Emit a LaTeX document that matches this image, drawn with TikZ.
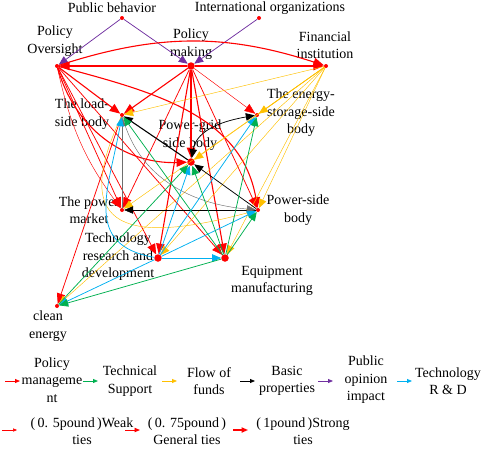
\documentclass[tikz,border=0pt]{standalone}
\usepackage{fontspec}
\setmainfont{Liberation Serif}
\usetikzlibrary{arrows.meta}
\definecolor{polred}{RGB}{255,0,0}
\definecolor{tecgreen}{RGB}{0,176,80}
\definecolor{funyellow}{RGB}{255,192,0}
\definecolor{pubpurple}{RGB}{112,48,160}
\definecolor{rndcyan}{RGB}{0,176,240}
\definecolor{basgray}{RGB}{110,110,110}
\newcommand\openp{(\,}
\newcommand\closep{\,)}
\begin{document}
\begin{tikzpicture}[x=1pt,y=1pt,every node/.style={font=\fontsize{14}{17.5}\selectfont},
  dot/.style={circle,fill=polred,inner sep=0pt,minimum size=4pt},
  bigdot/.style={dot,minimum size=7.5pt},
  lbl/.style={align=center,inner sep=0pt},
  rel/.style={-{Triangle[length=9pt,width=7.5pt]}},
  pol/.style={draw=polred,-{Triangle[length=10.5pt,width=8.5pt]}},
  tec/.style={rel,draw=tecgreen},
  fun/.style={rel,draw=funyellow},
  bas/.style={rel,draw=black},
  pub/.style={rel,draw=pubpurple},
  rnd/.style={rel,draw=rndcyan},
  wk/.style={line width=.45pt},gn/.style={line width=.75pt},st/.style={line width=1.1pt},
  legtip/.style={line width=.8pt,-{Triangle[length=5pt,width=4pt]}}]
\useasboundingbox (0,0) rectangle (484,-448);
% actors
\foreach \name/\x/\y in {PB/122/18,IO/259/18,PO/57/66,FI/326/66,LS/122/115,ES/257/115,
  MK/122/210,PS/258/210,CE/57/306}{
 \node[dot] (\name) at (\x,-\y) {};}
\foreach \name/\x/\y in {PM/191/66,PG/191/162,TR/158/258,EM/225/258}{
 \node[bigdot] (\name) at (\x,-\y) {};}
\node[lbl] (PB-l) at (112,-8) {Public behavior};
\node[lbl] (IO-l) at (270,-8) {International organizations};
\node[lbl] (PO-l) at (55,-41) {Policy\\Oversight};
\node[lbl] (PM-l) at (191,-44) {Policy\\making};
\node[lbl] (FI-l) at (325,-45) {Financial\\institution};
\node[lbl] (LS-l) at (82,-114) {The load-\\side body};
\node[lbl] (ES-l) at (301,-113) {The energy-\\storage-side\\body};
\node[lbl] (PG-l) at (190,-135) {Power-grid\\side body};
\node[lbl] (MK-l) at (89,-210) {The power\\market};
\node[lbl] (PS-l) at (298,-210) {Power-side\\body};
\node[lbl] (TR-l) at (118,-257) {Technology\\research and\\development};
\node[lbl] (EM-l) at (272,-281) {Equipment\\manufacturing};
\node[lbl] (CE-l) at (48,-326) {clean\\energy};
% public opinion
\foreach \a/\b in {PB/PO,PB/PM,IO/PM} \draw[pub,gn] (\a) -- (\b);
% policy management
\foreach \a/\b in {PM/PO,PM/FI,PO/LS,PM/LS,PM/PG,PM/TR,PM/EM} \draw[pol,st] (\a) -- (\b);
\foreach \a/\b in {PM/PS,PO/MK,PM/MK,PO/TR,PO/EM,LS/CE} \draw[pol,gn] (\a) -- (\b);
\draw[pol,wk] (PM) -- (ES);
\draw[pol,st] (PO) to[bend left=18] (FI);
\draw[pol,st] (PO) to[bend right=38] (PG);
\draw[pol,st] (PO) to[out=-15,in=100] (PS);
\draw[pol,wk] (PO) to[bend right=12] (MK);
% funds
\foreach \a/\b in {FI/LS,FI/PG,FI/MK,FI/PS,FI/TR,FI/EM,FI/CE} \draw[fun,wk] (\a) -- (\b);
\draw[fun,gn] (FI) -- (ES);
\draw[fun,wk] (LS) to[out=-115,in=195,looseness=2] (PS);
% basic properties
\draw[bas,st] (PG) -- (LS);
\draw[bas,gn] (PS) -- (PG);
\draw[bas,gn,{Triangle[length=9pt,width=7.5pt]}-{Triangle[length=9pt,width=7.5pt]}]
 (PG) to[out=80,in=190] (ES);
\draw[bas,wk] (PS) -- (MK);
\draw[bas,wk,draw=basgray] (MK) -- (LS);
\draw[bas,wk,draw=basgray] (LS) to[out=-75,in=175] (PS);
% technology R&D
\foreach \a/\b in {TR/EM,TR/PG,TR/ES,TR/PS,TR/CE} \draw[rnd,gn] (\a) -- (\b);
\draw[rnd,gn] (TR) to[out=170,in=-100,looseness=1.3] (LS);
% technical support
\foreach \a/\b in {EM/LS,EM/PG,EM/ES,EM/PS,EM/CE,CE/PG} \draw[tec,gn] (\a) -- (\b);
% legend
\foreach \sty/\xa/\xl/\y/\txt in {pol/5/52/380/{Policy\\manageme\\nt},tec/83/130/381/{Technical\\Support},
  fun/162/209/381/{Flow of\\funds},bas/240/287/381/{Basic\\properties},
  pub/318/366/380/{Public\\opinion\\impact},rnd/397/448/381/{Technology\\R \& D}}{
 \coordinate (s-\sty) at (\xa,-381);
 \coordinate (e-\sty) at (\xa+15,-381);
 \draw[\sty,legtip] (s-\sty) -- (e-\sty);
 \node[lbl] (l-\sty) at (\xl,-\y) {\txt};}
\foreach \k/\xa/\xl/\lw/\hd/\txt in {a/2/82/.5/4/{\openp0. 5pound\closep Weak\\ties},
  b/125/187/.9/5.5/{\openp0. 75pound\closep\\General ties},
  c/233/303/1.4/6.5/{\openp1pound\closep Strong\\ties}}{
 \coordinate (s-\k) at (\xa,-430);
 \coordinate (e-\k) at (\xa+15,-430);
 \draw[draw=polred,line width=\lw pt,-{Triangle[length=\hd pt,width=.8*\hd pt]}] (s-\k) -- (e-\k);
 \node[lbl] (l-\k) at (\xl,-431) {\txt};}
\end{tikzpicture}
\end{document}
